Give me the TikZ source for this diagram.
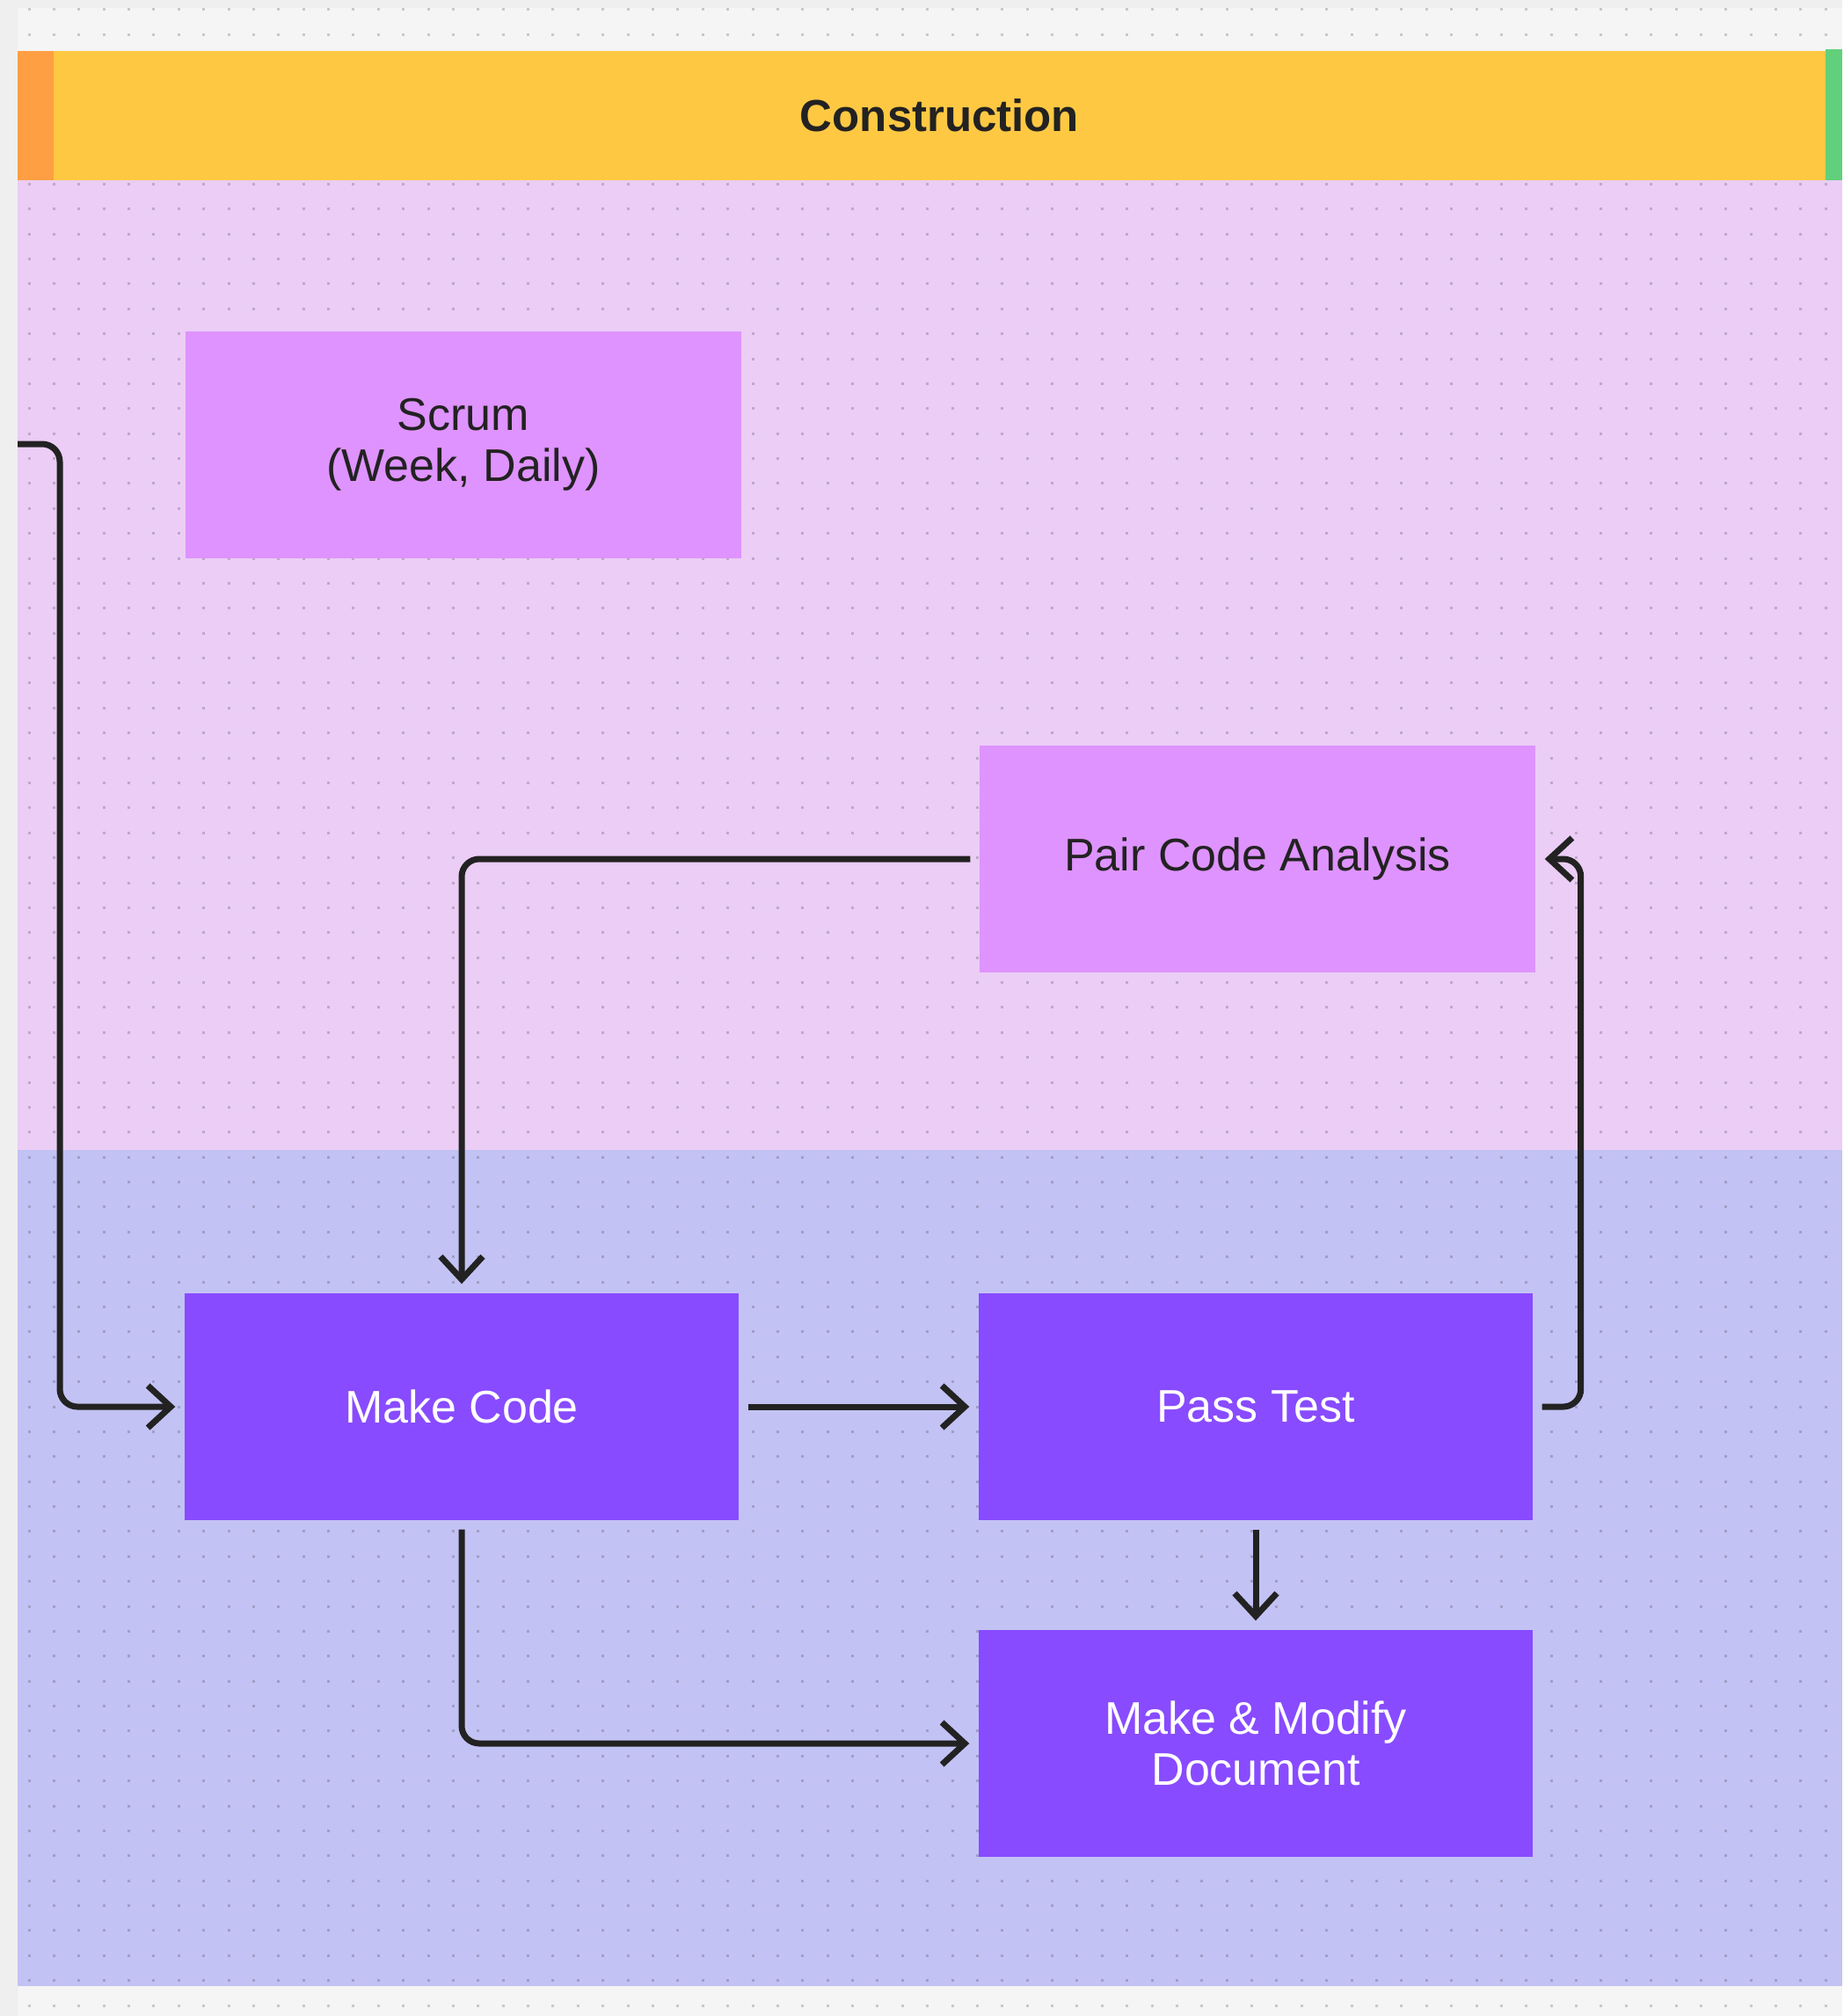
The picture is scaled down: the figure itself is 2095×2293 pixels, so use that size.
\documentclass[tikz,border=0pt]{standalone}
\usepackage{fontspec}
\setmainfont{Liberation Sans}
\usetikzlibrary{arrows.meta}
\definecolor{pagegray}{HTML}{EFEFEF}
\definecolor{boardgray}{HTML}{F5F5F5}
\definecolor{headyellow}{HTML}{FFC843}
\definecolor{headorange}{HTML}{FF9F43}
\definecolor{headgreen}{HTML}{62D07A}
\definecolor{lanepink}{HTML}{EBCDF5}
\definecolor{laneblue}{HTML}{C3C2F4}
\definecolor{boxpink}{HTML}{DF93FE}
\definecolor{boxviolet}{HTML}{884BFF}
\definecolor{ink}{HTML}{222222}

\begin{document}
\begin{tikzpicture}[
  x=0.1mm, y=-0.1mm,
  every node/.style={
    font=\fontsize{14.8}{16.5}\selectfont,
    align=center,
    inner sep=0pt,
  },
  pinkbox/.style={fill=boxpink, text=ink, minimum width=63.2mm, minimum height=25.8mm},
  violetbox/.style={fill=boxviolet, text=white, minimum width=63mm, minimum height=25.8mm},
  headbar/.style={fill=headyellow, text=ink, font=\fontsize{14.5}{16}\selectfont\bfseries,
    minimum width=201.5mm, minimum height=14.7mm},
  dotrow/.style={draw=black, opacity=0.18, line width=0.3mm, dash pattern=on 0.3mm off 2.538mm},
  flow/.style={draw=ink, line width=0.7mm, rounded corners=2mm,
    shorten <=1mm, shorten >=1mm, -{Straight Barb[length=2.6mm,width=4.8mm]}},
  ]
  % board and swimlanes
  \fill[pagegray] (0,0) rectangle (2095,2293);
  \fill[boardgray] (20,9) rectangle (2095,2293);
  \fill[lanepink] (20,205) rectangle (2095,1308);
  \fill[laneblue] (20,1308) rectangle (2095,2259);
  \foreach \r in {0,...,80} {
    \draw[dotrow] (31.5,{10.7+28.38*\r}) -- (2095,{10.7+28.38*\r});
  }

  % header
  \fill[headorange] (20,58) rectangle (61,205);
  \fill[headgreen] (2076,56) rectangle (2095,205);
  \node[headbar] (head) at (1068.5,131.5) {Construction};

  % steps
  \node[pinkbox] (scrum) at (527,506) {Scrum\\(Week, Daily)};
  \node[pinkbox] (pca) at (1430,977) {Pair Code Analysis};
  \node[violetbox] (mkcode) at (525,1600) {Make Code};
  \node[violetbox] (pass) at (1428,1600) {Pass Test};
  \node[violetbox] (doc) at (1428,1983) {Make \& Modify\\Document};

  \coordinate (entry) at (20,505);

  % connectors
  \draw[flow, shorten <=0mm] (entry) -- ++(48,0) |- (mkcode.west);
  \draw[flow] (pca.west) -| (mkcode.north);
  \draw[flow] (mkcode.east) -- (pass.west);
  \draw[flow] (pass.east) -- ++(54,0) |- (pca.east);
  \draw[flow] (pass.south) -- (doc.north);
  \draw[flow] (mkcode.south) |- (doc.west);
\end{tikzpicture}
\end{document}
